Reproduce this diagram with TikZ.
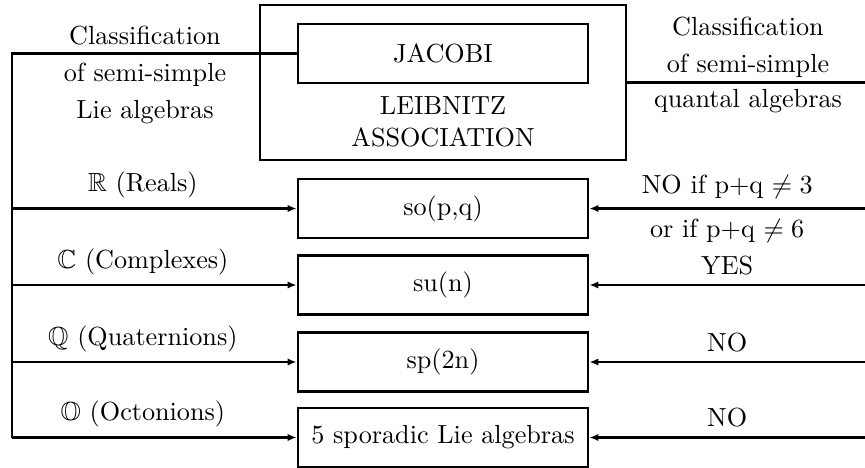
\documentclass[tikz,border=0pt]{standalone}
\usepackage{amsmath}
\usepackage{amssymb}
\usepackage{tikz}
\usetikzlibrary{arrows.meta,positioning}
\tikzset{
  algbox/.style={ draw, line width=1.1pt, minimum width=110.8pt, minimum height=22.5pt }
}
\tikzset{
  assocbox/.style={ draw, line width=1.1pt, minimum width=139.8pt, minimum height=59.2pt }
}
\tikzset{
  plainline/.style={ line width=1.1pt }
}
\tikzset{
  feed/.style={ line width=1.1pt, -{Latex[length=3.4pt,width=2.8pt]} }
}

\begin{document}
\begin{tikzpicture}[x=0.382pt, y=-0.382pt]
      \useasboundingbox (0,0) rectangle (865,468);
      \node[assocbox] (assoc) at (443, 82.5) {};
      \node[algbox] (jac) at (443, 53.5) {JACOBI};
      \node[align=center] (leib) at (443, 122) {LEIBNITZ\\ASSOCIATION};
      \node[align=center] (lieclass) at (145, 75) {Classification\\[2.1pt]of semi-simple\\[2.1pt]Lie algebras};
      \node[align=center] (qclass) at (748, 65) {Classification\\[2pt]of semi-simple\\[1.5pt]quantal algebras};

      \node[algbox] (so) at (443, 208.5) {so(p,q)};
      \node[algbox] (su) at (443, 285) {su(n)};
      \node[algbox] (sp) at (443, 362) {sp(2n)};
      \node[algbox] (spor) at (443, 437.5) {5 sporadic Lie algebras};

      \coordinate (ltop) at (12, 53.5);
      \coordinate (lbot) at (12, 437.5);
      \coordinate (rtop) at (865, 82.5);

      \draw[plainline] (jac.west) -- (ltop) -- (lbot);
      \draw[plainline] (assoc.east) -- (rtop);

      \draw[feed] (ltop |- so) -- node[pos=0.46, above] {$\mathbb{R}$ (Reals)} (so);
      \draw[feed] (ltop |- su) -- node[pos=0.46, above] {$\mathbb{C}$ (Complexes)} (su);
      \draw[feed] (ltop |- sp) -- node[pos=0.46, above] {$\mathbb{Q}$ (Quaternions)} (sp);
      \draw[feed] (lbot) -- node[pos=0.46, above] {$\mathbb{O}$ (Octonions)} (spor);

      \draw[feed] (rtop |- so) -- node[midway, above] {NO if p+q $\neq 3$} node[midway, below] {or if p+q $\neq 6$} (so);
      \draw[feed] (rtop |- su) -- node[midway, above] {YES} (su);
      \draw[feed] (rtop |- sp) -- node[midway, above] {NO} (sp);
      \draw[feed] (rtop |- spor) -- node[midway, above] {NO} (spor);

    \end{tikzpicture}
\end{document}
